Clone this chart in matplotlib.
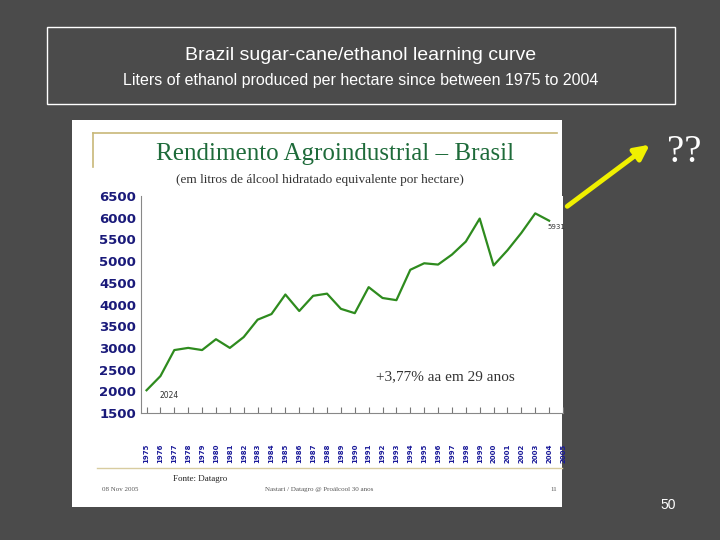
import matplotlib
matplotlib.use("Agg")
import matplotlib.pyplot as plt
from matplotlib.patches import Rectangle, FancyArrowPatch

years = list(range(1975, 2005))
values = [2024, 2350, 2950, 3000, 2950, 3200, 3000, 3250, 3650, 3780,
          4230, 3850, 4200, 4250, 3900, 3800, 4400, 4150, 4100, 4800,
          4950, 4920, 5150, 5450, 5980, 4900, 5250, 5650, 6100, 5931]
yticks = [1500, 2000, 2500, 3000, 3500, 4000, 4500, 5000, 5500, 6000, 6500]

W, H = 720, 540
fig = plt.figure(figsize=(7.2, 5.4), dpi=100)
fig.patch.set_facecolor('#4b4b4b')

def ax_px(x0, y0, x1, y1):
    return fig.add_axes([x0 / W, 1 - y1 / H, (x1 - x0) / W, (y1 - y0) / H])

ov = fig.add_axes([0, 0, 1, 1]); ov.set_xlim(0, W); ov.set_ylim(H, 0); ov.axis('off')
ov.add_patch(Rectangle((47, 27), 628, 77, fill=False, ec='white', lw=1))
ov.text(361, 55, "Brazil sugar-cane/ethanol learning curve", color='white', fontsize=14,
        ha='center', va='center', family='Liberation Sans')
ov.text(361, 81, "Liters of ethanol produced per hectare since between 1975 to 2004", color='white',
        fontsize=11.5, ha='center', va='center', family='Liberation Sans')
ov.add_patch(Rectangle((72, 120), 490, 387, fc='white', ec='none'))
ov.plot([93, 557], [133, 133], color='#c8b878', lw=1.2)
ov.plot([93, 93], [133, 167], color='#c8b878', lw=1.2)
ov.plot([97, 562], [468, 468], color='#d8cca0', lw=1)
ov.text(335, 154, "Rendimento Agroindustrial – Brasil", color='#1e6b3a', fontsize=18,
        ha='center', va='center', family='Liberation Serif')
ov.text(320, 180, "(em litros de álcool hidratado equivalente por hectare)", color='#333333',
        fontsize=9.5, ha='center', va='center', family='Liberation Serif')
ov.text(173, 481, "Fonte: Datagro", fontsize=6.5, family='Liberation Serif', color='#222222')
ov.text(102, 491, "08 Nov 2005", fontsize=5, family='Liberation Serif', color='#555555')
ov.text(265, 491, "Nastari / Datagro @ Proálcool 30 anos", fontsize=5, family='Liberation Serif', color='#555555')
ov.text(550, 491, "11", fontsize=5, family='Liberation Serif', color='#555555')
ov.text(684, 152, "??", color='white', fontsize=28, ha='center', va='center', family='Liberation Serif')
ov.add_patch(FancyArrowPatch((565, 208), (652, 143), arrowstyle='-|>', mutation_scale=22,
                             color='#f0f000', lw=3.5))
ov.text(668, 505, "50", color='white', fontsize=10, ha='center', va='center', family='Liberation Sans')

ax = ax_px(141, 196, 563, 413)
ax.plot(years, values, color='#2e8b1e', lw=1.6)
ax.set_xlim(1974.6, 2004.9)
ax.set_ylim(1500, 6500)
ax.set_yticks(yticks)
ax.set_yticklabels([str(v) for v in yticks], color='#1a1a7a', fontsize=9.5, fontweight='bold')
ax.set_xticks(years + [2005])
ax.set_xticklabels([str(y) for y in years + [2005]], color='#1a1a99', fontsize=5,
                   fontweight='bold', rotation=90)
ax.tick_params(axis='x', direction='in', length=4, pad=22, color='#777777')
ax.tick_params(axis='y', length=0)
for s in ['top', 'right']:
    ax.spines[s].set_visible(False)
ax.spines['left'].set_color('#888888'); ax.spines['bottom'].set_color('#888888')
ax.text(1975.9, 1850, "2024", fontsize=5.5, color='#333333')
ax.text(2003.9, 5730, "5931", fontsize=5, color='#333333')
ax.text(1991.5, 2250, "+3,77% aa em 29 anos", fontsize=11, family='Liberation Serif', color='#333333')

fig.savefig("out.png", dpi=100, facecolor=fig.get_facecolor())
